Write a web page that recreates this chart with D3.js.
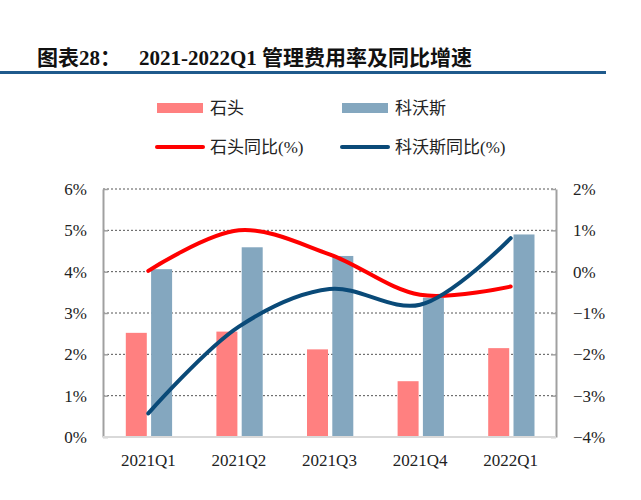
<!DOCTYPE html>
<html><head><meta charset="utf-8">
<script src="https://cdn.jsdelivr.net/npm/d3@7"></script>
<style>body{margin:0;background:#fff;} svg{display:block;}</style>
</head><body>
<svg id="c" width="641" height="500"></svg>
<script>
const categories = ["2021Q1","2021Q2","2021Q3","2021Q4","2022Q1"];
const shitouRate = [2.52, 2.55, 2.12, 1.35, 2.15];
const ecovacsRate = [4.06, 4.59, 4.38, 3.37, 4.90];
const shitouYoY = [0.02, 1.00, 0.42, -0.56, -0.36];
const ecovacsYoY = [-3.43, -1.33, -0.42, -0.80, 0.81];
const leftTicks = [0,1,2,3,4,5,6];
const rightTicks = [-4,-3,-2,-1,0,1,2];
const seriesNames = ["石头","科沃斯","石头同比(%)","科沃斯同比(%)"];

const svg = d3.select("#c");
const L = 103, R = 556, T = 189, B = 437;
const serif = "'Liberation Serif','Noto Sans CJK SC',serif";
const colRedBar = "#FF8080", colBlueBar = "#84A7BF", colRed = "#FF0000", colBlue = "#0A4A78";

// Title
const title = svg.append("text").attr("y", 65).attr("font-family", serif)
  .attr("font-weight", "bold").attr("font-size", 21).attr("fill", "#111");
title.append("tspan").attr("x", 37).text("图表28：");
title.append("tspan").attr("x", 139).text("2021-2022Q1 管理费用率及同比增速");
svg.append("rect").attr("x", 0).attr("y", 71).attr("width", 606).attr("height", 3).attr("fill", "#1F5A8C");

const x = d3.scaleBand().domain(categories).range([L, R]).padding(0);
const x1 = d3.scaleBand().domain(["s","e"]).range([-22.5, 23.8]).paddingInner(0.17);
const yL = d3.scaleLinear().domain([0, 6]).range([B, T]);
const yR = d3.scaleLinear().domain([-4, 2]).range([B, T]);

// grid
svg.append("g").selectAll("line").data(leftTicks.filter(d => d > 0)).join("line")
  .attr("x1", L).attr("x2", R).attr("y1", d => yL(d)).attr("y2", d => yL(d))
  .attr("stroke", "#555").attr("stroke-width", 1).attr("stroke-dasharray", "2,2");

// bars
const cx = c => x(c) + x.bandwidth() / 2;
svg.append("g").selectAll("rect").data(categories).join("rect")
  .attr("x", c => cx(c) + x1("s")).attr("width", x1.bandwidth())
  .attr("y", (c, i) => yL(shitouRate[i])).attr("height", (c, i) => yL(0) - yL(shitouRate[i]))
  .attr("fill", colRedBar);
svg.append("g").selectAll("rect").data(categories).join("rect")
  .attr("x", c => cx(c) + x1("e")).attr("width", x1.bandwidth())
  .attr("y", (c, i) => yL(ecovacsRate[i])).attr("height", (c, i) => yL(0) - yL(ecovacsRate[i]))
  .attr("fill", colBlueBar);

// axes
const axL = d3.axisLeft(yL).tickValues(leftTicks).tickFormat(d => d + "%").tickSizeInner(-5).tickSizeOuter(0).tickPadding(16);
const gL = svg.append("g").attr("transform", `translate(${L},0)`).call(axL);
const axR = d3.axisRight(yR).tickValues(rightTicks).tickFormat(d => (d < 0 ? "−" + (-d) : d) + "%").tickSizeInner(-5).tickSizeOuter(0).tickPadding(17);
const gR = svg.append("g").attr("transform", `translate(${R},0)`).call(axR);
[gL, gR].forEach(g => {
  g.select(".domain").attr("stroke", "#A0A0A0").attr("stroke-width", 2);
  g.selectAll(".tick line").attr("stroke", "#A0A0A0").attr("stroke-width", 1.5);
  g.selectAll(".tick text").attr("font-family", serif).attr("font-size", 17).attr("fill", "#222");
});
// baseline
svg.append("line").attr("x1", L).attr("x2", R).attr("y1", B).attr("y2", B).attr("stroke", "#D9D9D9").attr("stroke-width", 2);

const axB = d3.axisBottom(x).tickSize(0).tickPadding(17);
const gB = svg.append("g").attr("transform", `translate(0,${B})`).call(axB);
gB.select(".domain").remove();
gB.selectAll(".tick text").attr("font-family", serif).attr("font-size", 17).attr("fill", "#222");

// lines
const line = vals => d3.line().x((d, i) => cx(categories[i])).y(d => yR(d)).curve(d3.curveCatmullRom.alpha(0.5))(vals);
svg.append("path").attr("d", line(shitouYoY)).attr("fill", "none").attr("stroke", colRed).attr("stroke-width", 4).attr("stroke-linecap", "round");
svg.append("path").attr("d", line(ecovacsYoY)).attr("fill", "none").attr("stroke", colBlue).attr("stroke-width", 4).attr("stroke-linecap", "round");

// legend
const lg = svg.append("g").attr("font-family", serif).attr("font-size", 17).attr("fill", "#222");
const items = [
  {n: seriesNames[0], t: "bar", c: colRedBar, x: 157, y: 108},
  {n: seriesNames[1], t: "bar", c: colBlueBar, x: 342, y: 108},
  {n: seriesNames[2], t: "line", c: colRed, x: 157, y: 147},
  {n: seriesNames[3], t: "line", c: colBlue, x: 342, y: 147}
];
items.forEach(it => {
  if (it.t === "bar") lg.append("rect").attr("x", it.x).attr("y", it.y - 5).attr("width", 46).attr("height", 10).attr("fill", it.c);
  else lg.append("line").attr("x1", it.x).attr("x2", it.x + 46).attr("y1", it.y).attr("y2", it.y).attr("stroke", it.c).attr("stroke-width", 4).attr("stroke-linecap", "round");
  lg.append("text").attr("x", it.x + 53).attr("y", it.y).attr("dy", "0.36em").text(it.n);
});
</script>
</body></html>
